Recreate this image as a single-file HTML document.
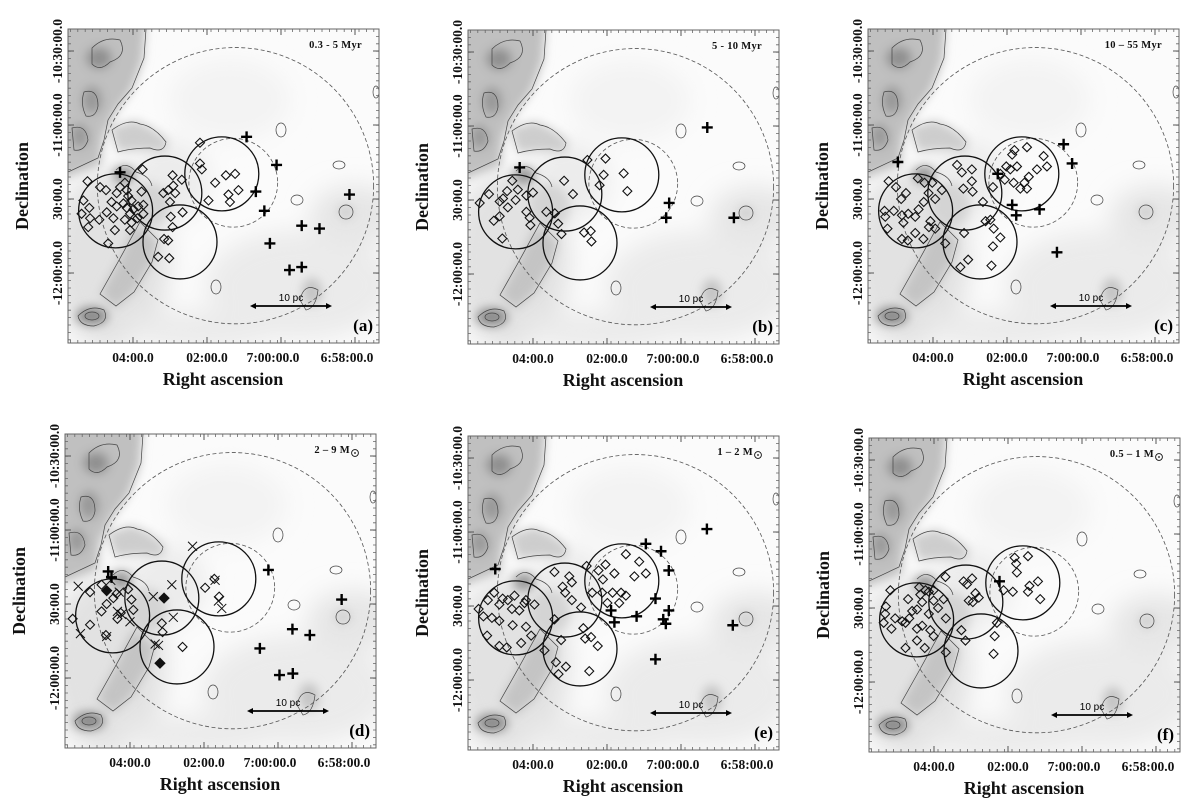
<!DOCTYPE html>
<html><head><meta charset="utf-8">
<style>
html,body{margin:0;padding:0;background:#fff;}
svg{display:block;font-family:"Liberation Serif",serif;}
.tl{font-size:13.5px;font-weight:bold;fill:#111;}
.ti{font-size:10.5px;font-weight:bold;fill:#111;}
.ax{font-size:18px;font-weight:bold;fill:#111;}
</style></head>
<body>
<svg id="fig" width="1200" height="808" viewBox="0 0 1200 808" xmlns="http://www.w3.org/2000/svg">
<defs>
<filter id="bl" x="-20%" y="-20%" width="140%" height="140%"><feGaussianBlur stdDeviation="5"/></filter>
<filter id="bl2" x="-20%" y="-20%" width="140%" height="140%"><feGaussianBlur stdDeviation="12"/></filter>
<clipPath id="fc"><rect x="68" y="29" width="311" height="314"/></clipPath>
<g id="bgmap">
<rect x="68" y="29" width="311" height="314" fill="#fbfbfb"/>
<g clip-path="url(#fc)">
<g filter="url(#bl2)">
<ellipse cx="110" cy="260" rx="60" ry="90" fill="#e2e2e2"/>
<ellipse cx="300" cy="285" rx="95" ry="55" fill="#ebebeb"/>
<ellipse cx="355" cy="215" rx="45" ry="30" fill="#e6e6e6"/>
<ellipse cx="200" cy="330" rx="80" ry="20" fill="#ebebeb"/>
<ellipse cx="170" cy="180" rx="40" ry="40" fill="#ececec"/>
<ellipse cx="230" cy="100" rx="60" ry="40" fill="#f3f3f3"/>
</g>
<g filter="url(#bl)">
<polygon points="60,20 146,20 143,60 132,90 116,112 104,135 100,165 60,180" fill="#c0c0c0"/>
<ellipse cx="99" cy="58" rx="13" ry="11" fill="#8f8f8f"/>
<ellipse cx="92" cy="100" rx="10" ry="14" fill="#999"/>
<ellipse cx="80" cy="136" rx="9" ry="12" fill="#999"/>
<polygon points="110,128 135,120 152,128 168,140 166,152 140,150 118,152" fill="#cdcdcd"/>
<ellipse cx="124" cy="175" rx="11" ry="9" fill="#999"/>
<ellipse cx="150" cy="205" rx="20" ry="22" fill="#d4d4d4"/>
<polygon points="135,225 158,240 152,262 134,292 116,308 100,294 118,262" fill="#c4c4c4"/>
<ellipse cx="92" cy="316" rx="16" ry="9" fill="#8a8a8a"/>
<ellipse cx="312" cy="292" rx="10" ry="14" fill="#c4c4c4"/>
<ellipse cx="346" cy="212" rx="8" ry="7" fill="#cfcfcf"/>
</g>
<g fill="none" stroke="#444" stroke-width="0.7">
<path d="M146,29 L144,58 L132,88 L118,104 L108,120 L104,140 L98,158 L68,172"/>
<path d="M92,48 Q104,36 120,40 Q128,56 110,62 Q100,72 92,64 Z"/>
<path d="M84,92 Q98,88 98,106 Q96,118 86,116 Q80,104 84,92 Z"/>
<path d="M72,128 Q86,124 88,140 Q84,152 74,150 Z"/>
<path d="M112,130 Q128,118 140,124 Q154,126 166,142 Q164,154 150,148 Q132,148 118,152 Z"/>
<path d="M116,170 Q126,160 136,172 Q150,176 152,186"/>
<path d="M140,222 L158,240 L152,262 L134,292 L116,306 L100,294 L118,262 Z"/>
<path d="M78,316 Q90,304 104,310 Q110,322 94,326 Q80,326 78,316 Z"/>
<ellipse cx="92" cy="316" rx="7" ry="4"/>
<ellipse cx="281" cy="130" rx="5" ry="7"/>
<ellipse cx="339" cy="165" rx="6" ry="4"/>
<ellipse cx="297" cy="200" rx="6" ry="5"/>
<ellipse cx="346" cy="212" rx="7" ry="7"/>
<ellipse cx="216" cy="287" rx="5" ry="7"/>
<ellipse cx="376" cy="92" rx="3" ry="6"/>
<path d="M300,300 Q304,282 318,290 Q316,308 306,310 Z"/>
</g>
</g>
</g>
</defs>
<g id="panels"></g>
</svg>
<script>
// ---- chart data (RA in minutes past 7:00:00, Dec in degrees) ----
const xTickRa = [4, 2, 0, -2];
const xTickLabels = ["04:00.0", "02:00.0", "7:00:00.0", "6:58:00.0"];
const yTickDec = [-10.5, -11.0, -11.5, -12.0];
const yTickLabels = ["-10:30:00.0", "-11:00:00.0", "30:00.0", "-12:00:00.0"];
const subclusterRa = [4.47, 3.14, 1.60, 2.73];
const subclusterDec = [-11.58, -11.46, -11.33, -11.79];
const subclusterRadiusArcmin = [15, 15, 15, 15];
const innerRingCenter = [1.29, -11.39];
const innerRingRadiusArcmin = 18;
const outerRingCenter = [1.23, -11.41];
const outerRingRadiusArcmin = 56;
const panelTitles = ["0.3 - 5 Myr", "5 - 10 Myr", "10 – 55 Myr", "2 – 9 M", "1 – 2 M", "0.5 – 1 M"];
const panelLetters = ["(a)", "(b)", "(c)", "(d)", "(e)", "(f)"];

const aDiamonds = [[5.23,-11.38],[4.89,-11.42],[4.73,-11.44],[5.34,-11.51],[5.18,-11.56],[5.39,-11.60],[5.16,-11.63],[4.91,-11.64],[5.21,-11.69],[4.67,-11.80],[4.49,-11.71],[4.53,-11.63],[4.71,-11.59],[4.58,-11.52],[4.44,-11.46],[4.35,-11.42],[4.22,-11.39],[4.17,-11.44],[4.13,-11.48],[4.04,-11.51],[4.26,-11.53],[4.17,-11.56],[3.99,-11.57],[3.86,-11.55],[3.72,-11.54],[3.77,-11.45],[3.74,-11.30],[4.08,-11.60],[4.22,-11.64],[4.04,-11.66],[4.08,-11.71],[4.44,-11.55],[3.72,-11.60],[3.88,-11.63],[3.18,-11.46],[3.05,-11.44],[2.93,-11.34],[2.91,-11.41],[2.68,-11.37],[3.00,-11.52],[2.86,-11.46],[2.98,-11.62],[2.93,-11.69],[2.66,-11.59],[3.16,-11.77],[3.05,-11.78],[3.32,-11.89],[3.02,-11.90],[2.19,-11.12],[2.19,-11.26],[2.14,-11.30],[1.78,-11.39],[1.49,-11.34],[1.24,-11.33],[1.15,-11.44],[1.42,-11.47],[1.38,-11.52],[1.96,-11.51]];
const aPluses = [[4.35,-11.32],[0.93,-11.08],[0.12,-11.27],[0.68,-11.45],[0.45,-11.58],[-0.56,-11.68],[-1.04,-11.70],[0.30,-11.80],[-0.23,-11.98],[-0.56,-11.96],[-1.85,-11.47]];

const bDiamonds = [[5.44,-11.52],[5.19,-11.46],[4.90,-11.51],[4.81,-11.49],[4.70,-11.44],[4.56,-11.37],[4.41,-11.43],[4.47,-11.50],[4.68,-11.55],[4.90,-11.61],[5.06,-11.64],[4.83,-11.76],[4.18,-11.47],[4.00,-11.45],[4.18,-11.58],[4.09,-11.62],[4.07,-11.67],[3.64,-11.58],[3.41,-11.59],[3.32,-11.66],[3.23,-11.73],[3.16,-11.37],[2.92,-11.46],[2.62,-11.72],[2.44,-11.71],[2.42,-11.78],[2.53,-11.23],[2.20,-11.40],[2.09,-11.33],[2.04,-11.22],[1.55,-11.32],[1.45,-11.44]];
const bPluses = [[4.36,-11.28],[-0.71,-11.01],[0.32,-11.52],[0.40,-11.62],[-1.43,-11.62]];

const cDiamonds = [[5.20,-11.38],[5.00,-11.42],[4.73,-11.46],[4.86,-11.50],[5.31,-11.58],[5.29,-11.62],[5.23,-11.70],[5.06,-11.58],[4.84,-11.61],[4.80,-11.66],[4.67,-11.60],[4.48,-11.62],[4.39,-11.57],[4.41,-11.36],[4.23,-11.39],[4.12,-11.46],[4.25,-11.52],[4.02,-11.39],[3.94,-11.50],[3.76,-11.44],[4.07,-11.65],[3.94,-11.70],[4.11,-11.69],[4.48,-11.73],[4.68,-11.78],[4.84,-11.77],[4.26,-11.77],[3.67,-11.80],[3.35,-11.27],[3.22,-11.32],[2.95,-11.30],[2.95,-11.38],[3.18,-11.43],[2.93,-11.45],[2.65,-11.52],[2.58,-11.65],[2.45,-11.64],[2.36,-11.70],[2.18,-11.76],[2.38,-11.82],[3.16,-11.73],[3.05,-11.91],[3.26,-11.96],[2.42,-11.95],[2.18,-11.33],[2.02,-11.28],[1.91,-11.30],[1.73,-11.28],[1.86,-11.20],[1.80,-11.17],[1.46,-11.15],[1.19,-11.30],[1.01,-11.21],[0.92,-11.28],[1.41,-11.35],[1.53,-11.39],[1.64,-11.43],[1.46,-11.43],[1.82,-11.39],[2.06,-11.37],[2.38,-11.42]];
const cPluses = [[4.95,-11.25],[2.25,-11.33],[1.86,-11.54],[1.75,-11.61],[1.12,-11.57],[0.47,-11.13],[0.24,-11.26],[0.65,-11.86]];

const dDiamonds = [[5.08,-11.42],[4.77,-11.37],[4.63,-11.50],[4.77,-11.55],[5.55,-11.60],[5.08,-11.64],[4.36,-11.43],[4.05,-11.40],[3.96,-11.47],[3.91,-11.54],[4.34,-11.60],[4.25,-11.56],[4.65,-11.71],[4.45,-11.46],[3.14,-11.63],[3.12,-11.69],[2.58,-11.79],[1.97,-11.39],[1.72,-11.33],[1.59,-11.45]];
const dFilled = [[4.63,-11.41],[3.08,-11.46],[3.19,-11.90]];
const dCrosses = [[5.40,-11.38],[5.34,-11.70],[4.63,-11.72],[4.52,-11.34],[4.29,-11.42],[4.34,-11.55],[4.23,-11.57],[4.00,-11.62],[3.37,-11.45],[2.83,-11.59],[3.32,-11.77],[3.23,-11.78],[2.87,-11.37],[2.31,-11.11],[1.70,-11.34],[1.52,-11.53],[1.61,-11.48]];
const dPluses = [[4.59,-11.28],[4.50,-11.32],[0.26,-11.27],[-1.72,-11.47],[-0.39,-11.67],[-0.86,-11.71],[0.49,-11.80],[-0.04,-11.98],[-0.40,-11.97]];

const eDiamonds = [[5.47,-11.52],[5.22,-11.46],[5.05,-11.41],[4.91,-11.49],[4.82,-11.45],[5.11,-11.58],[4.91,-11.60],[5.24,-11.70],[4.91,-11.77],[4.71,-11.78],[4.55,-11.63],[4.57,-11.52],[4.68,-11.46],[4.50,-11.43],[4.37,-11.53],[4.23,-11.48],[4.19,-11.46],[3.96,-11.49],[4.19,-11.64],[4.05,-11.70],[4.32,-11.75],[5.34,-11.57],[3.42,-11.27],[3.20,-11.37],[3.13,-11.41],[3.02,-11.30],[2.95,-11.34],[2.95,-11.46],[2.70,-11.51],[3.42,-11.59],[3.24,-11.73],[3.69,-11.80],[3.38,-11.88],[3.11,-11.91],[3.31,-11.96],[2.48,-11.94],[2.64,-11.65],[2.59,-11.72],[2.43,-11.71],[2.25,-11.77],[2.55,-11.23],[2.23,-11.26],[2.04,-11.22],[2.11,-11.32],[2.13,-11.41],[2.40,-11.41],[1.99,-11.48],[1.80,-11.28],[1.85,-11.41],[1.67,-11.48],[1.62,-11.41],[1.49,-11.43],[1.49,-11.15],[1.13,-11.20],[0.95,-11.28],[1.26,-11.30]];
const ePluses = [[5.02,-11.25],[1.89,-11.53],[1.80,-11.61],[1.20,-11.57],[0.95,-11.08],[0.54,-11.13],[0.33,-11.26],[0.69,-11.45],[0.33,-11.53],[0.48,-11.59],[0.41,-11.62],[-0.70,-10.98],[-1.40,-11.63],[0.69,-11.86]];

const fDiamonds = [[5.18,-11.38],[5.30,-11.49],[5.32,-11.54],[5.36,-11.60],[5.15,-11.64],[5.05,-11.57],[4.86,-11.59],[4.77,-11.60],[4.67,-11.57],[4.46,-11.51],[4.37,-11.41],[4.40,-11.36],[4.23,-11.38],[4.14,-11.39],[4.01,-11.45],[3.89,-11.50],[3.74,-11.44],[4.01,-11.38],[4.14,-11.54],[4.46,-11.64],[4.32,-11.62],[4.10,-11.65],[4.01,-11.69],[4.46,-11.72],[4.25,-11.77],[4.77,-11.77],[3.68,-11.57],[4.70,-11.44],[4.32,-11.46],[4.59,-11.52],[3.69,-11.29],[3.20,-11.32],[2.97,-11.30],[3.11,-11.34],[2.88,-11.40],[2.79,-11.43],[3.06,-11.45],[2.95,-11.46],[3.26,-11.65],[3.15,-11.72],[3.68,-11.80],[2.30,-11.60],[2.36,-11.69],[2.39,-11.81],[2.12,-11.38],[1.87,-11.39],[1.82,-11.16],[1.78,-11.20],[1.76,-11.26],[1.46,-11.15],[1.42,-11.35],[1.46,-11.39],[1.19,-11.32],[1.13,-11.44]];
const fPluses = [[2.23,-11.32]];

const panelOffsets = [[0,0],[400,1],[800,0],[-3,405],[400,407],[801,409]];

// ---- axis functions (panel-local) ----
function X(ra){ return 133 + (4 - ra) * 37; }
function Y(dec){ return 51 + (-10.5 - dec) * 148; }
function R(arcmin){ return arcmin * 148 / 60; }

const NS = "http://www.w3.org/2000/svg";
function mk(tag, attrs, parent){
  const e = document.createElementNS(NS, tag);
  for (const k in attrs) e.setAttribute(k, attrs[k]);
  parent.appendChild(e);
  return e;
}
const root = document.getElementById('panels');

const panelData = [
  {dia: aDiamonds, plus: aPluses},
  {dia: bDiamonds, plus: bPluses},
  {dia: cDiamonds, plus: cPluses},
  {dia: dDiamonds, plus: dPluses, filled: dFilled, cross: dCrosses},
  {dia: eDiamonds, plus: ePluses},
  {dia: fDiamonds, plus: fPluses}
];

panelData.forEach((pd, i) => {
  const g = mk('g', {transform: 'translate(' + panelOffsets[i][0] + ',' + panelOffsets[i][1] + ')'}, root);
  
  
  const bg = mk('use', {href: '#bgmap'}, g);
  
  

  const clip = mk('g', {'clip-path': 'url(#fc)'}, g);
  const outer = mk('circle', {cx: X(outerRingCenter[0]), cy: Y(outerRingCenter[1]), r: R(outerRingRadiusArcmin), fill: 'none', stroke: '#555', 'stroke-width': 0.8, 'stroke-dasharray': '4,2.5'}, clip);
  
  
  const inner = mk('circle', {cx: X(innerRingCenter[0]), cy: Y(innerRingCenter[1]), r: R(innerRingRadiusArcmin), fill: 'none', stroke: '#555', 'stroke-width': 0.8, 'stroke-dasharray': '4,2.5'}, clip);
  
  
  subclusterRa.forEach((ra, k) => {
    const c = mk('circle', {cx: X(ra), cy: Y(subclusterDec[k]), r: R(subclusterRadiusArcmin[k]), fill: 'none', stroke: '#111', 'stroke-width': 1.3}, clip);
    
    
  });
  pd.dia.forEach(p => {
    const x = X(p[0]), y = Y(p[1]), s = 4.5;
    const d = mk('polygon', {points: x + ',' + (y - s) + ' ' + (x + s) + ',' + y + ' ' + x + ',' + (y + s) + ' ' + (x - s) + ',' + y, fill: 'none', stroke: '#111', 'stroke-width': 1.1}, clip);
    
    
  });
  (pd.filled || []).forEach(p => {
    const x = X(p[0]), y = Y(p[1]), s = 5;
    const d = mk('polygon', {points: x + ',' + (y - s) + ' ' + (x + s) + ',' + y + ' ' + x + ',' + (y + s) + ' ' + (x - s) + ',' + y, fill: '#111', stroke: '#111', 'stroke-width': 1}, clip);
    
    
  });
  (pd.cross || []).forEach(p => {
    const x = X(p[0]), y = Y(p[1]), s = 4.5;
    const c = mk('path', {d: 'M' + (x - s) + ',' + (y - s) + 'L' + (x + s) + ',' + (y + s) + 'M' + (x + s) + ',' + (y - s) + 'L' + (x - s) + ',' + (y + s), stroke: '#111', 'stroke-width': 1, fill: 'none'}, clip);
    
    
  });
  pd.plus.forEach(p => {
    const x = X(p[0]), y = Y(p[1]), s = 5.5;
    const c = mk('path', {d: 'M' + (x - s) + ',' + y + 'L' + (x + s) + ',' + y + 'M' + x + ',' + (y - s) + 'L' + x + ',' + (y + s), stroke: '#000', 'stroke-width': 2.4, fill: 'none'}, clip);
    
    
  });

  const fr = mk('rect', {x: 68, y: 29, width: 311, height: 314, fill: 'none', stroke: '#666', 'stroke-width': 1}, g);
  
  
  let tp = '';
  for (let t = 68 + 2.4; t < 379; t += 7.4) { tp += 'M' + t + ',343v-3M' + t + ',29v3'; }
  for (let t = 29 + 7.4; t < 343; t += 7.4) { tp += 'M68,' + t + 'h3M379,' + t + 'h-3'; }
  mk('path', {d: tp, stroke: '#666', 'stroke-width': 0.8, fill: 'none'}, g);

  xTickRa.forEach((ra, k) => {
    mk('path', {d: 'M' + X(ra) + ',343v-6M' + X(ra) + ',29v6', stroke: '#555', 'stroke-width': 1}, g);
    const t = mk('text', {x: X(ra) - (k >= 2 ? 8 : 0), y: 362, 'text-anchor': 'middle', class: 'tl'}, g);
    t.textContent = xTickLabels[k];
    
    
  });
  yTickDec.forEach((dec, k) => {
    mk('path', {d: 'M68,' + Y(dec) + 'h6M379,' + Y(dec) + 'h-6', stroke: '#555', 'stroke-width': 1}, g);
    const t = mk('text', {x: 0, y: 0, 'text-anchor': 'middle', class: 'tl', transform: 'translate(62,' + Y(dec) + ') rotate(-90)'}, g);
    t.textContent = yTickLabels[k];
    
    
  });
  const xt = mk('text', {x: 223, y: 385, 'text-anchor': 'middle', class: 'ax'}, g);
  xt.textContent = 'Right ascension';
  
  
  const yt = mk('text', {x: 0, y: 0, 'text-anchor': 'middle', class: 'ax', transform: 'translate(28,186) rotate(-90)'}, g);
  yt.textContent = 'Declination';
  
  

  const tt = mk('text', {x: i >= 3 ? 353 : 362, y: 48, 'text-anchor': 'end', class: 'ti', 'letter-spacing': '0.3'}, g);
  tt.textContent = panelTitles[i];
  
  
  if (i >= 3) {
    const sun = mk('g', {}, g);
    
    
    mk('circle', {cx: 358, cy: 48, r: 3.4, fill: 'none', stroke: '#111', 'stroke-width': 0.9}, sun);
    mk('circle', {cx: 358, cy: 48, r: 0.9, fill: '#111'}, sun);
  }
  const sb = mk('g', {}, g);
  
  
  mk('path', {d: 'M252,306H330', stroke: '#000', 'stroke-width': 1.8}, sb);
  mk('path', {d: 'M250,306l6,-3v6zM332,306l-6,-3v6z', fill: '#000'}, sb);
  const sbt = mk('text', {x: 291, y: 301, 'text-anchor': 'middle', 'font-family': 'Liberation Sans, sans-serif', 'font-size': '10'}, sb);
  sbt.textContent = '10 pc';
  const lt = mk('text', {x: 373, y: 331, 'text-anchor': 'end', 'font-size': '17', 'font-weight': 'bold'}, g);
  lt.textContent = panelLetters[i];
  
  
});
</script>
</body></html>
